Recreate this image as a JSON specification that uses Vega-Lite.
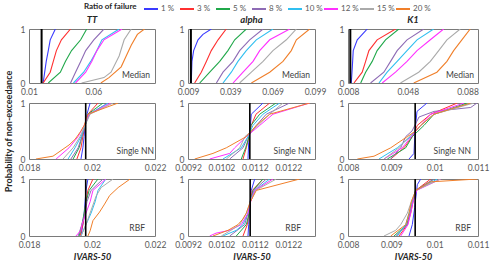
{
"$schema":"https://vega.github.io/schema/vega-lite/v6.json",
"padding":{"left":3,"top":1,"right":0,"bottom":0},
"datasets":{
"c":[
{"g":"TT_M","s":"1 %","x":0.021,"p":0},{"g":"TT_M","s":"1 %","x":0.0222,"p":0.2},{"g":"TT_M","s":"1 %","x":0.0234,"p":0.4},{"g":"TT_M","s":"1 %","x":0.025,"p":0.6},{"g":"TT_M","s":"1 %","x":0.0265,"p":0.8},{"g":"TT_M","s":"1 %","x":0.0305,"p":1},
{"g":"TT_M","s":"3 %","x":0.021,"p":0},{"g":"TT_M","s":"3 %","x":0.0265,"p":0.2},{"g":"TT_M","s":"3 %","x":0.0289,"p":0.4},{"g":"TT_M","s":"3 %","x":0.0313,"p":0.6},{"g":"TT_M","s":"3 %","x":0.0352,"p":0.8},{"g":"TT_M","s":"3 %","x":0.0423,"p":1},
{"g":"TT_M","s":"5 %","x":0.025,"p":0},{"g":"TT_M","s":"5 %","x":0.0344,"p":0.2},{"g":"TT_M","s":"5 %","x":0.0383,"p":0.4},{"g":"TT_M","s":"5 %","x":0.0431,"p":0.6},{"g":"TT_M","s":"5 %","x":0.0502,"p":0.8},{"g":"TT_M","s":"5 %","x":0.0549,"p":1},
{"g":"TT_M","s":"8 %","x":0.0423,"p":0},{"g":"TT_M","s":"8 %","x":0.0462,"p":0.2},{"g":"TT_M","s":"8 %","x":0.0502,"p":0.4},{"g":"TT_M","s":"8 %","x":0.0541,"p":0.6},{"g":"TT_M","s":"8 %","x":0.0604,"p":0.8},{"g":"TT_M","s":"8 %","x":0.0683,"p":1},
{"g":"TT_M","s":"10 %","x":0.0446,"p":0},{"g":"TT_M","s":"10 %","x":0.0525,"p":0.2},{"g":"TT_M","s":"10 %","x":0.058,"p":0.4},{"g":"TT_M","s":"10 %","x":0.0628,"p":0.6},{"g":"TT_M","s":"10 %","x":0.0667,"p":0.8},{"g":"TT_M","s":"10 %","x":0.0801,"p":1},
{"g":"TT_M","s":"12 %","x":0.0462,"p":0},{"g":"TT_M","s":"12 %","x":0.0541,"p":0.2},{"g":"TT_M","s":"12 %","x":0.0588,"p":0.4},{"g":"TT_M","s":"12 %","x":0.0628,"p":0.6},{"g":"TT_M","s":"12 %","x":0.0683,"p":0.8},{"g":"TT_M","s":"12 %","x":0.0824,"p":1},
{"g":"TT_M","s":"15 %","x":0.0509,"p":0},{"g":"TT_M","s":"15 %","x":0.0683,"p":0.1},{"g":"TT_M","s":"15 %","x":0.0738,"p":0.2},{"g":"TT_M","s":"15 %","x":0.0801,"p":0.5},{"g":"TT_M","s":"15 %","x":0.084,"p":0.8},{"g":"TT_M","s":"15 %","x":0.0895,"p":1},
{"g":"TT_M","s":"20 %","x":0.0659,"p":0},{"g":"TT_M","s":"20 %","x":0.0722,"p":0.1},{"g":"TT_M","s":"20 %","x":0.0817,"p":0.3},{"g":"TT_M","s":"20 %","x":0.0856,"p":0.5},{"g":"TT_M","s":"20 %","x":0.0895,"p":0.7},{"g":"TT_M","s":"20 %","x":0.0943,"p":0.9},{"g":"TT_M","s":"20 %","x":0.0998,"p":1},

{"g":"al_M","s":"1 %","x":0.0113,"p":0},{"g":"al_M","s":"1 %","x":0.0118,"p":0.4},{"g":"al_M","s":"1 %","x":0.013,"p":0.6},{"g":"al_M","s":"1 %","x":0.0161,"p":0.8},{"g":"al_M","s":"1 %","x":0.0196,"p":0.9},{"g":"al_M","s":"1 %","x":0.0255,"p":1},
{"g":"al_M","s":"3 %","x":0.0137,"p":0},{"g":"al_M","s":"3 %","x":0.0184,"p":0.2},{"g":"al_M","s":"3 %","x":0.022,"p":0.4},{"g":"al_M","s":"3 %","x":0.0255,"p":0.6},{"g":"al_M","s":"3 %","x":0.0303,"p":0.8},{"g":"al_M","s":"3 %","x":0.0361,"p":1},
{"g":"al_M","s":"5 %","x":0.0173,"p":0},{"g":"al_M","s":"5 %","x":0.0244,"p":0.2},{"g":"al_M","s":"5 %","x":0.0315,"p":0.4},{"g":"al_M","s":"5 %","x":0.0373,"p":0.6},{"g":"al_M","s":"5 %","x":0.0421,"p":0.8},{"g":"al_M","s":"5 %","x":0.0503,"p":1},
{"g":"al_M","s":"8 %","x":0.0291,"p":0},{"g":"al_M","s":"8 %","x":0.0338,"p":0.2},{"g":"al_M","s":"8 %","x":0.0409,"p":0.4},{"g":"al_M","s":"8 %","x":0.0456,"p":0.6},{"g":"al_M","s":"8 %","x":0.0527,"p":0.8},{"g":"al_M","s":"8 %","x":0.0622,"p":1},
{"g":"al_M","s":"10 %","x":0.0338,"p":0},{"g":"al_M","s":"10 %","x":0.0397,"p":0.2},{"g":"al_M","s":"10 %","x":0.0444,"p":0.4},{"g":"al_M","s":"10 %","x":0.0503,"p":0.6},{"g":"al_M","s":"10 %","x":0.0574,"p":0.8},{"g":"al_M","s":"10 %","x":0.0692,"p":1},
{"g":"al_M","s":"12 %","x":0.0409,"p":0},{"g":"al_M","s":"12 %","x":0.048,"p":0.2},{"g":"al_M","s":"12 %","x":0.0551,"p":0.4},{"g":"al_M","s":"12 %","x":0.0598,"p":0.6},{"g":"al_M","s":"12 %","x":0.0669,"p":0.8},{"g":"al_M","s":"12 %","x":0.0811,"p":1},
{"g":"al_M","s":"15 %","x":0.0456,"p":0},{"g":"al_M","s":"15 %","x":0.0539,"p":0.2},{"g":"al_M","s":"15 %","x":0.0622,"p":0.4},{"g":"al_M","s":"15 %","x":0.0692,"p":0.6},{"g":"al_M","s":"15 %","x":0.0787,"p":0.8},{"g":"al_M","s":"15 %","x":0.0858,"p":1},
{"g":"al_M","s":"20 %","x":0.0539,"p":0},{"g":"al_M","s":"20 %","x":0.0669,"p":0.2},{"g":"al_M","s":"20 %","x":0.0763,"p":0.4},{"g":"al_M","s":"20 %","x":0.0822,"p":0.6},{"g":"al_M","s":"20 %","x":0.0858,"p":0.8},{"g":"al_M","s":"20 %","x":0.0952,"p":1},

{"g":"K1_M","s":"1 %","x":0.0102,"p":0},{"g":"K1_M","s":"1 %","x":0.0109,"p":0.3},{"g":"K1_M","s":"1 %","x":0.0115,"p":0.6},{"g":"K1_M","s":"1 %","x":0.0142,"p":0.8},{"g":"K1_M","s":"1 %","x":0.0209,"p":1},
{"g":"K1_M","s":"3 %","x":0.012,"p":0},{"g":"K1_M","s":"3 %","x":0.0175,"p":0.2},{"g":"K1_M","s":"3 %","x":0.0198,"p":0.4},{"g":"K1_M","s":"3 %","x":0.022,"p":0.6},{"g":"K1_M","s":"3 %","x":0.0275,"p":0.8},{"g":"K1_M","s":"3 %","x":0.0398,"p":1},
{"g":"K1_M","s":"5 %","x":0.0165,"p":0},{"g":"K1_M","s":"5 %","x":0.0198,"p":0.2},{"g":"K1_M","s":"5 %","x":0.0242,"p":0.4},{"g":"K1_M","s":"5 %","x":0.0275,"p":0.6},{"g":"K1_M","s":"5 %","x":0.0331,"p":0.8},{"g":"K1_M","s":"5 %","x":0.042,"p":1},
{"g":"K1_M","s":"8 %","x":0.0231,"p":0},{"g":"K1_M","s":"8 %","x":0.032,"p":0.2},{"g":"K1_M","s":"8 %","x":0.0365,"p":0.4},{"g":"K1_M","s":"8 %","x":0.0409,"p":0.6},{"g":"K1_M","s":"8 %","x":0.0475,"p":0.8},{"g":"K1_M","s":"8 %","x":0.0587,"p":1},
{"g":"K1_M","s":"10 %","x":0.0287,"p":0},{"g":"K1_M","s":"10 %","x":0.0342,"p":0.2},{"g":"K1_M","s":"10 %","x":0.0409,"p":0.4},{"g":"K1_M","s":"10 %","x":0.0475,"p":0.6},{"g":"K1_M","s":"10 %","x":0.0542,"p":0.8},{"g":"K1_M","s":"10 %","x":0.0653,"p":1},
{"g":"K1_M","s":"12 %","x":0.0309,"p":0},{"g":"K1_M","s":"12 %","x":0.0398,"p":0.2},{"g":"K1_M","s":"12 %","x":0.0475,"p":0.4},{"g":"K1_M","s":"12 %","x":0.0542,"p":0.6},{"g":"K1_M","s":"12 %","x":0.0631,"p":0.8},{"g":"K1_M","s":"12 %","x":0.072,"p":1},
{"g":"K1_M","s":"15 %","x":0.0431,"p":0},{"g":"K1_M","s":"15 %","x":0.0553,"p":0.2},{"g":"K1_M","s":"15 %","x":0.0631,"p":0.4},{"g":"K1_M","s":"15 %","x":0.0687,"p":0.6},{"g":"K1_M","s":"15 %","x":0.0742,"p":0.8},{"g":"K1_M","s":"15 %","x":0.0831,"p":1},
{"g":"K1_M","s":"20 %","x":0.052,"p":0},{"g":"K1_M","s":"20 %","x":0.0675,"p":0.2},{"g":"K1_M","s":"20 %","x":0.0742,"p":0.4},{"g":"K1_M","s":"20 %","x":0.0787,"p":0.6},{"g":"K1_M","s":"20 %","x":0.0842,"p":0.8},{"g":"K1_M","s":"20 %","x":0.0898,"p":1},

{"g":"TT_S","s":"1 %","x":0.01965,"p":0},{"g":"TT_S","s":"1 %","x":0.01971,"p":0.2},{"g":"TT_S","s":"1 %","x":0.01975,"p":0.4},{"g":"TT_S","s":"1 %","x":0.01978,"p":0.6},{"g":"TT_S","s":"1 %","x":0.01984,"p":0.8},{"g":"TT_S","s":"1 %","x":0.01994,"p":1},
{"g":"TT_S","s":"3 %","x":0.01952,"p":0},{"g":"TT_S","s":"3 %","x":0.01965,"p":0.2},{"g":"TT_S","s":"3 %","x":0.01971,"p":0.4},{"g":"TT_S","s":"3 %","x":0.01978,"p":0.6},{"g":"TT_S","s":"3 %","x":0.01987,"p":0.8},{"g":"TT_S","s":"3 %","x":0.02019,"p":1},
{"g":"TT_S","s":"5 %","x":0.0194,"p":0},{"g":"TT_S","s":"5 %","x":0.01959,"p":0.2},{"g":"TT_S","s":"5 %","x":0.01968,"p":0.4},{"g":"TT_S","s":"5 %","x":0.01978,"p":0.6},{"g":"TT_S","s":"5 %","x":0.01987,"p":0.8},{"g":"TT_S","s":"5 %","x":0.02035,"p":1},
{"g":"TT_S","s":"8 %","x":0.01933,"p":0},{"g":"TT_S","s":"8 %","x":0.01956,"p":0.2},{"g":"TT_S","s":"8 %","x":0.01968,"p":0.4},{"g":"TT_S","s":"8 %","x":0.01978,"p":0.6},{"g":"TT_S","s":"8 %","x":0.01991,"p":0.8},{"g":"TT_S","s":"8 %","x":0.02051,"p":1},
{"g":"TT_S","s":"10 %","x":0.01924,"p":0},{"g":"TT_S","s":"10 %","x":0.01946,"p":0.2},{"g":"TT_S","s":"10 %","x":0.01965,"p":0.4},{"g":"TT_S","s":"10 %","x":0.01978,"p":0.6},{"g":"TT_S","s":"10 %","x":0.01991,"p":0.8},{"g":"TT_S","s":"10 %","x":0.02051,"p":1},
{"g":"TT_S","s":"12 %","x":0.01886,"p":0},{"g":"TT_S","s":"12 %","x":0.01927,"p":0.2},{"g":"TT_S","s":"12 %","x":0.01956,"p":0.4},{"g":"TT_S","s":"12 %","x":0.01975,"p":0.6},{"g":"TT_S","s":"12 %","x":0.01991,"p":0.8},{"g":"TT_S","s":"12 %","x":0.0206,"p":1},
{"g":"TT_S","s":"15 %","x":0.01908,"p":0},{"g":"TT_S","s":"15 %","x":0.0194,"p":0.2},{"g":"TT_S","s":"15 %","x":0.01962,"p":0.4},{"g":"TT_S","s":"15 %","x":0.01978,"p":0.6},{"g":"TT_S","s":"15 %","x":0.01994,"p":0.8},{"g":"TT_S","s":"15 %","x":0.02067,"p":1},
{"g":"TT_S","s":"20 %","x":0.01822,"p":0},{"g":"TT_S","s":"20 %","x":0.01876,"p":0.05},{"g":"TT_S","s":"20 %","x":0.01927,"p":0.25},{"g":"TT_S","s":"20 %","x":0.01946,"p":0.35},{"g":"TT_S","s":"20 %","x":0.01965,"p":0.5},{"g":"TT_S","s":"20 %","x":0.01975,"p":0.6},{"g":"TT_S","s":"20 %","x":0.01987,"p":0.8},{"g":"TT_S","s":"20 %","x":0.02083,"p":1},

{"g":"al_S","s":"1 %","x":0.010995,"p":0},{"g":"al_S","s":"1 %","x":0.011016,"p":0.3},{"g":"al_S","s":"1 %","x":0.011055,"p":0.5},{"g":"al_S","s":"1 %","x":0.011094,"p":0.8},{"g":"al_S","s":"1 %","x":0.011444,"p":1},
{"g":"al_S","s":"3 %","x":0.010846,"p":0},{"g":"al_S","s":"3 %","x":0.010944,"p":0.2},{"g":"al_S","s":"3 %","x":0.011025,"p":0.4},{"g":"al_S","s":"3 %","x":0.011094,"p":0.6},{"g":"al_S","s":"3 %","x":0.011235,"p":0.8},{"g":"al_S","s":"3 %","x":0.011644,"p":1},
{"g":"al_S","s":"5 %","x":0.010795,"p":0},{"g":"al_S","s":"5 %","x":0.010926,"p":0.2},{"g":"al_S","s":"5 %","x":0.011025,"p":0.4},{"g":"al_S","s":"5 %","x":0.011085,"p":0.6},{"g":"al_S","s":"5 %","x":0.011345,"p":0.8},{"g":"al_S","s":"5 %","x":0.011833,"p":1},
{"g":"al_S","s":"8 %","x":0.010448,"p":0},{"g":"al_S","s":"8 %","x":0.010846,"p":0.2},{"g":"al_S","s":"8 %","x":0.010995,"p":0.4},{"g":"al_S","s":"8 %","x":0.011244,"p":0.6},{"g":"al_S","s":"8 %","x":0.011543,"p":0.8},{"g":"al_S","s":"8 %","x":0.012243,"p":1},
{"g":"al_S","s":"10 %","x":0.010247,"p":0},{"g":"al_S","s":"10 %","x":0.010795,"p":0.2},{"g":"al_S","s":"10 %","x":0.010995,"p":0.4},{"g":"al_S","s":"10 %","x":0.011145,"p":0.6},{"g":"al_S","s":"10 %","x":0.011444,"p":0.8},{"g":"al_S","s":"10 %","x":0.011944,"p":1},
{"g":"al_S","s":"12 %","x":0.009849,"p":0},{"g":"al_S","s":"12 %","x":0.010448,"p":0.1},{"g":"al_S","s":"12 %","x":0.010597,"p":0.2},{"g":"al_S","s":"12 %","x":0.010944,"p":0.4},{"g":"al_S","s":"12 %","x":0.011345,"p":0.6},{"g":"al_S","s":"12 %","x":0.011743,"p":0.8},{"g":"al_S","s":"12 %","x":0.012841,"p":1},
{"g":"al_S","s":"15 %","x":0.010346,"p":0},{"g":"al_S","s":"15 %","x":0.010747,"p":0.2},{"g":"al_S","s":"15 %","x":0.010905,"p":0.4},{"g":"al_S","s":"15 %","x":0.011294,"p":0.6},{"g":"al_S","s":"15 %","x":0.011644,"p":0.8},{"g":"al_S","s":"15 %","x":0.012042,"p":1},
{"g":"al_S","s":"20 %","x":0.0094,"p":0},{"g":"al_S","s":"20 %","x":0.009948,"p":0.1},{"g":"al_S","s":"20 %","x":0.010346,"p":0.2},{"g":"al_S","s":"20 %","x":0.010944,"p":0.4},{"g":"al_S","s":"20 %","x":0.011244,"p":0.6},{"g":"al_S","s":"20 %","x":0.011644,"p":0.8},{"g":"al_S","s":"20 %","x":0.012841,"p":1},

{"g":"K1_S","s":"1 %","x":0.009408,"p":0},{"g":"K1_S","s":"1 %","x":0.009523,"p":0.1},{"g":"K1_S","s":"1 %","x":0.009546,"p":0.5},{"g":"K1_S","s":"1 %","x":0.009593,"p":0.85},{"g":"K1_S","s":"1 %","x":0.009823,"p":1},
{"g":"K1_S","s":"3 %","x":0.008986,"p":0},{"g":"K1_S","s":"3 %","x":0.009292,"p":0.2},{"g":"K1_S","s":"3 %","x":0.009484,"p":0.4},{"g":"K1_S","s":"3 %","x":0.009599,"p":0.6},{"g":"K1_S","s":"3 %","x":0.009909,"p":0.8},{"g":"K1_S","s":"3 %","x":0.010523,"p":1},
{"g":"K1_S","s":"5 %","x":0.008907,"p":0},{"g":"K1_S","s":"5 %","x":0.009332,"p":0.2},{"g":"K1_S","s":"5 %","x":0.009484,"p":0.4},{"g":"K1_S","s":"5 %","x":0.009754,"p":0.6},{"g":"K1_S","s":"5 %","x":0.009985,"p":0.8},{"g":"K1_S","s":"5 %","x":0.010753,"p":1},
{"g":"K1_S","s":"8 %","x":0.008986,"p":0},{"g":"K1_S","s":"8 %","x":0.009216,"p":0.2},{"g":"K1_S","s":"8 %","x":0.009332,"p":0.4},{"g":"K1_S","s":"8 %","x":0.009477,"p":0.5},{"g":"K1_S","s":"8 %","x":0.009639,"p":0.75},{"g":"K1_S","s":"8 %","x":0.009985,"p":0.85},{"g":"K1_S","s":"8 %","x":0.010832,"p":0.92},{"g":"K1_S","s":"8 %","x":0.010977,"p":1},
{"g":"K1_S","s":"10 %","x":0.008715,"p":0},{"g":"K1_S","s":"10 %","x":0.009138,"p":0.2},{"g":"K1_S","s":"10 %","x":0.009447,"p":0.4},{"g":"K1_S","s":"10 %","x":0.009678,"p":0.6},{"g":"K1_S","s":"10 %","x":0.009985,"p":0.8},{"g":"K1_S","s":"10 %","x":0.010832,"p":1},
{"g":"K1_S","s":"12 %","x":0.008831,"p":0},{"g":"K1_S","s":"12 %","x":0.009253,"p":0.2},{"g":"K1_S","s":"12 %","x":0.009461,"p":0.4},{"g":"K1_S","s":"12 %","x":0.009678,"p":0.6},{"g":"K1_S","s":"12 %","x":0.009909,"p":0.8},{"g":"K1_S","s":"12 %","x":0.010677,"p":1},
{"g":"K1_S","s":"15 %","x":0.008831,"p":0},{"g":"K1_S","s":"15 %","x":0.009177,"p":0.2},{"g":"K1_S","s":"15 %","x":0.009408,"p":0.4},{"g":"K1_S","s":"15 %","x":0.009678,"p":0.6},{"g":"K1_S","s":"15 %","x":0.009985,"p":0.8},{"g":"K1_S","s":"15 %","x":0.010908,"p":1},
{"g":"K1_S","s":"20 %","x":0.008215,"p":0},{"g":"K1_S","s":"20 %","x":0.0086,"p":0.05},{"g":"K1_S","s":"20 %","x":0.008986,"p":0.2},{"g":"K1_S","s":"20 %","x":0.009177,"p":0.3},{"g":"K1_S","s":"20 %","x":0.009369,"p":0.4},{"g":"K1_S","s":"20 %","x":0.009563,"p":0.5},{"g":"K1_S","s":"20 %","x":0.009678,"p":0.6},{"g":"K1_S","s":"20 %","x":0.009985,"p":0.8},{"g":"K1_S","s":"20 %","x":0.010832,"p":1},

{"g":"TT_R","s":"1 %","x":0.01965,"p":0},{"g":"TT_R","s":"1 %","x":0.01971,"p":0.2},{"g":"TT_R","s":"1 %","x":0.01975,"p":0.4},{"g":"TT_R","s":"1 %","x":0.01978,"p":0.6},{"g":"TT_R","s":"1 %","x":0.01981,"p":0.8},{"g":"TT_R","s":"1 %","x":0.01987,"p":1},
{"g":"TT_R","s":"3 %","x":0.01962,"p":0},{"g":"TT_R","s":"3 %","x":0.01971,"p":0.2},{"g":"TT_R","s":"3 %","x":0.01976,"p":0.4},{"g":"TT_R","s":"3 %","x":0.01981,"p":0.6},{"g":"TT_R","s":"3 %","x":0.01987,"p":0.8},{"g":"TT_R","s":"3 %","x":0.02003,"p":1},
{"g":"TT_R","s":"5 %","x":0.01959,"p":0},{"g":"TT_R","s":"5 %","x":0.01968,"p":0.2},{"g":"TT_R","s":"5 %","x":0.01975,"p":0.4},{"g":"TT_R","s":"5 %","x":0.01981,"p":0.6},{"g":"TT_R","s":"5 %","x":0.01991,"p":0.8},{"g":"TT_R","s":"5 %","x":0.02019,"p":1},
{"g":"TT_R","s":"8 %","x":0.01956,"p":0},{"g":"TT_R","s":"8 %","x":0.01968,"p":0.2},{"g":"TT_R","s":"8 %","x":0.01978,"p":0.4},{"g":"TT_R","s":"8 %","x":0.01984,"p":0.6},{"g":"TT_R","s":"8 %","x":0.01997,"p":0.8},{"g":"TT_R","s":"8 %","x":0.02035,"p":1},
{"g":"TT_R","s":"10 %","x":0.01965,"p":0},{"g":"TT_R","s":"10 %","x":0.01981,"p":0.2},{"g":"TT_R","s":"10 %","x":0.01997,"p":0.4},{"g":"TT_R","s":"10 %","x":0.0201,"p":0.6},{"g":"TT_R","s":"10 %","x":0.02019,"p":0.8},{"g":"TT_R","s":"10 %","x":0.02044,"p":1},
{"g":"TT_R","s":"12 %","x":0.01949,"p":0},{"g":"TT_R","s":"12 %","x":0.01965,"p":0.1},{"g":"TT_R","s":"12 %","x":0.01968,"p":0.2},{"g":"TT_R","s":"12 %","x":0.01981,"p":0.4},{"g":"TT_R","s":"12 %","x":0.01994,"p":0.6},{"g":"TT_R","s":"12 %","x":0.02003,"p":0.8},{"g":"TT_R","s":"12 %","x":0.02044,"p":1},
{"g":"TT_R","s":"15 %","x":0.01965,"p":0},{"g":"TT_R","s":"15 %","x":0.01981,"p":0.2},{"g":"TT_R","s":"15 %","x":0.01997,"p":0.45},{"g":"TT_R","s":"15 %","x":0.02013,"p":0.7},{"g":"TT_R","s":"15 %","x":0.02029,"p":0.85},{"g":"TT_R","s":"15 %","x":0.02067,"p":1},
{"g":"TT_R","s":"20 %","x":0.01987,"p":0},{"g":"TT_R","s":"20 %","x":0.01994,"p":0.09},{"g":"TT_R","s":"20 %","x":0.02003,"p":0.27},{"g":"TT_R","s":"20 %","x":0.02024,"p":0.42},{"g":"TT_R","s":"20 %","x":0.0204,"p":0.56},{"g":"TT_R","s":"20 %","x":0.02056,"p":0.71},{"g":"TT_R","s":"20 %","x":0.02083,"p":0.85},{"g":"TT_R","s":"20 %","x":0.02121,"p":1},

{"g":"al_R","s":"1 %","x":0.010995,"p":0},{"g":"al_R","s":"1 %","x":0.011016,"p":0.2},{"g":"al_R","s":"1 %","x":0.011046,"p":0.5},{"g":"al_R","s":"1 %","x":0.011094,"p":0.8},{"g":"al_R","s":"1 %","x":0.011196,"p":1},
{"g":"al_R","s":"3 %","x":0.010846,"p":0},{"g":"al_R","s":"3 %","x":0.010974,"p":0.2},{"g":"al_R","s":"3 %","x":0.011025,"p":0.4},{"g":"al_R","s":"3 %","x":0.011064,"p":0.6},{"g":"al_R","s":"3 %","x":0.011124,"p":0.8},{"g":"al_R","s":"3 %","x":0.011444,"p":1},
{"g":"al_R","s":"5 %","x":0.010645,"p":0},{"g":"al_R","s":"5 %","x":0.010944,"p":0.2},{"g":"al_R","s":"5 %","x":0.011034,"p":0.4},{"g":"al_R","s":"5 %","x":0.011064,"p":0.6},{"g":"al_R","s":"5 %","x":0.011145,"p":0.8},{"g":"al_R","s":"5 %","x":0.011444,"p":1},
{"g":"al_R","s":"8 %","x":0.010448,"p":0},{"g":"al_R","s":"8 %","x":0.010896,"p":0.2},{"g":"al_R","s":"8 %","x":0.010995,"p":0.4},{"g":"al_R","s":"8 %","x":0.011064,"p":0.6},{"g":"al_R","s":"8 %","x":0.011166,"p":0.8},{"g":"al_R","s":"8 %","x":0.011543,"p":1},
{"g":"al_R","s":"10 %","x":0.010247,"p":0},{"g":"al_R","s":"10 %","x":0.010645,"p":0.1},{"g":"al_R","s":"10 %","x":0.010846,"p":0.2},{"g":"al_R","s":"10 %","x":0.010995,"p":0.4},{"g":"al_R","s":"10 %","x":0.011064,"p":0.6},{"g":"al_R","s":"10 %","x":0.011196,"p":0.8},{"g":"al_R","s":"10 %","x":0.011644,"p":1},
{"g":"al_R","s":"12 %","x":0.009849,"p":0},{"g":"al_R","s":"12 %","x":0.010038,"p":0.05},{"g":"al_R","s":"12 %","x":0.010448,"p":0.1},{"g":"al_R","s":"12 %","x":0.010795,"p":0.2},{"g":"al_R","s":"12 %","x":0.010995,"p":0.4},{"g":"al_R","s":"12 %","x":0.011076,"p":0.6},{"g":"al_R","s":"12 %","x":0.011196,"p":0.8},{"g":"al_R","s":"12 %","x":0.011743,"p":1},
{"g":"al_R","s":"15 %","x":0.010196,"p":0},{"g":"al_R","s":"15 %","x":0.010487,"p":0.1},{"g":"al_R","s":"15 %","x":0.010747,"p":0.2},{"g":"al_R","s":"15 %","x":0.010944,"p":0.4},{"g":"al_R","s":"15 %","x":0.011064,"p":0.6},{"g":"al_R","s":"15 %","x":0.011226,"p":0.8},{"g":"al_R","s":"15 %","x":0.011842,"p":1},
{"g":"al_R","s":"20 %","x":0.009948,"p":0},{"g":"al_R","s":"20 %","x":0.010397,"p":0.1},{"g":"al_R","s":"20 %","x":0.010696,"p":0.2},{"g":"al_R","s":"20 %","x":0.010846,"p":0.3},{"g":"al_R","s":"20 %","x":0.010944,"p":0.4},{"g":"al_R","s":"20 %","x":0.011064,"p":0.6},{"g":"al_R","s":"20 %","x":0.011244,"p":0.8},{"g":"al_R","s":"20 %","x":0.012542,"p":1},

{"g":"K1_R","s":"1 %","x":0.009408,"p":0},{"g":"K1_R","s":"1 %","x":0.009484,"p":0.2},{"g":"K1_R","s":"1 %","x":0.009539,"p":0.5},{"g":"K1_R","s":"1 %","x":0.009599,"p":0.9},{"g":"K1_R","s":"1 %","x":0.009678,"p":1},
{"g":"K1_R","s":"3 %","x":0.009177,"p":0},{"g":"K1_R","s":"3 %","x":0.009369,"p":0.2},{"g":"K1_R","s":"3 %","x":0.009447,"p":0.4},{"g":"K1_R","s":"3 %","x":0.0095,"p":0.6},{"g":"K1_R","s":"3 %","x":0.009563,"p":0.8},{"g":"K1_R","s":"3 %","x":0.009909,"p":1},
{"g":"K1_R","s":"5 %","x":0.009062,"p":0},{"g":"K1_R","s":"5 %","x":0.009355,"p":0.2},{"g":"K1_R","s":"5 %","x":0.009431,"p":0.4},{"g":"K1_R","s":"5 %","x":0.009484,"p":0.6},{"g":"K1_R","s":"5 %","x":0.009563,"p":0.8},{"g":"K1_R","s":"5 %","x":0.009985,"p":1},
{"g":"K1_R","s":"8 %","x":0.009101,"p":0},{"g":"K1_R","s":"8 %","x":0.009369,"p":0.2},{"g":"K1_R","s":"8 %","x":0.009431,"p":0.4},{"g":"K1_R","s":"8 %","x":0.009493,"p":0.6},{"g":"K1_R","s":"8 %","x":0.009569,"p":0.8},{"g":"K1_R","s":"8 %","x":0.009985,"p":1},
{"g":"K1_R","s":"10 %","x":0.009138,"p":0},{"g":"K1_R","s":"10 %","x":0.009332,"p":0.2},{"g":"K1_R","s":"10 %","x":0.009408,"p":0.4},{"g":"K1_R","s":"10 %","x":0.009484,"p":0.6},{"g":"K1_R","s":"10 %","x":0.009576,"p":0.8},{"g":"K1_R","s":"10 %","x":0.010061,"p":1},
{"g":"K1_R","s":"12 %","x":0.009216,"p":0},{"g":"K1_R","s":"12 %","x":0.009385,"p":0.2},{"g":"K1_R","s":"12 %","x":0.009447,"p":0.4},{"g":"K1_R","s":"12 %","x":0.0095,"p":0.6},{"g":"K1_R","s":"12 %","x":0.009586,"p":0.8},{"g":"K1_R","s":"12 %","x":0.010139,"p":1},
{"g":"K1_R","s":"15 %","x":0.008831,"p":0},{"g":"K1_R","s":"15 %","x":0.009101,"p":0.1},{"g":"K1_R","s":"15 %","x":0.009216,"p":0.2},{"g":"K1_R","s":"15 %","x":0.009369,"p":0.4},{"g":"K1_R","s":"15 %","x":0.009461,"p":0.6},{"g":"K1_R","s":"15 %","x":0.009563,"p":0.8},{"g":"K1_R","s":"15 %","x":0.010139,"p":1},
{"g":"K1_R","s":"20 %","x":0.008986,"p":0},{"g":"K1_R","s":"20 %","x":0.009332,"p":0.2},{"g":"K1_R","s":"20 %","x":0.009408,"p":0.4},{"g":"K1_R","s":"20 %","x":0.009461,"p":0.6},{"g":"K1_R","s":"20 %","x":0.009563,"p":0.8},{"g":"K1_R","s":"20 %","x":0.009909,"p":0.95},{"g":"K1_R","s":"20 %","x":0.010984,"p":1}
],
"v":[
{"g":"TT_M","x":0.0198},{"g":"al_M","x":0.01105},{"g":"K1_M","x":0.00955},
{"g":"TT_S","x":0.0198},{"g":"al_S","x":0.01105},{"g":"K1_S","x":0.00955},
{"g":"TT_R","x":0.0198},{"g":"al_R","x":0.01106},{"g":"K1_R","x":0.00955}
]
},
"concat":[
{"width":126,"height":54,"title":{"text":"TT"},
 "layer":[
 {"data":{"name":"c"},"transform":[{"filter":"datum.g==='TT_M'"}],"mark":{"type":"line","strokeWidth":1.1,"clip":true},
  "encoding":{"x":{"field":"x","type":"quantitative","scale":{"domain":[0.01,0.108],"nice":false,"zero":false},"axis":{"values":[0.01,0.06],"title":null}},
  "y":{"field":"p","type":"quantitative","scale":{"domain":[0,1],"nice":false},"axis":{"values":[0,0.2,0.4,0.6,0.8,1],"title":null}},
  "color":{"field":"s","type":"nominal","title":"Ratio of failure","scale":{"domain":["1 %","3 %","5 %","8 %","10 %","12 %","15 %","20 %"],"range":["#3a3aff","#ff3030","#20a84a","#8e6bb5","#30bff0","#ff30ff","#aaaaaa","#f07f2a"]}},
  "order":{"field":"p","type":"quantitative"}}},
 {"data":{"name":"v"},"transform":[{"filter":"datum.g==='TT_M'"}],"mark":{"type":"rule","color":"black","strokeWidth":2},"encoding":{"x":{"field":"x","type":"quantitative"}}},
 {"data":{"values":[{}]},"mark":{"type":"text","align":"right","baseline":"bottom","dx":-5,"dy":-3},"encoding":{"x":{"datum":0.108},"y":{"datum":0},"text":{"value":"Median"}}}
 ]},
{"width":127,"height":54,"title":{"text":"alpha"},
 "layer":[
 {"data":{"name":"c"},"transform":[{"filter":"datum.g==='al_M'"}],"mark":{"type":"line","strokeWidth":1.1,"clip":true},
  "encoding":{"x":{"field":"x","type":"quantitative","scale":{"domain":[0.009,0.099],"nice":false,"zero":false},"axis":{"values":[0.009,0.039,0.069,0.099],"title":null}},
  "y":{"field":"p","type":"quantitative","scale":{"domain":[0,1],"nice":false},"axis":{"values":[0,0.2,0.4,0.6,0.8,1],"title":null}},
  "color":{"field":"s","type":"nominal","title":"Ratio of failure","scale":{"domain":["1 %","3 %","5 %","8 %","10 %","12 %","15 %","20 %"],"range":["#3a3aff","#ff3030","#20a84a","#8e6bb5","#30bff0","#ff30ff","#aaaaaa","#f07f2a"]}},
  "order":{"field":"p","type":"quantitative"}}},
 {"data":{"name":"v"},"transform":[{"filter":"datum.g==='al_M'"}],"mark":{"type":"rule","color":"black","strokeWidth":2},"encoding":{"x":{"field":"x","type":"quantitative"}}},
 {"data":{"values":[{}]},"mark":{"type":"text","align":"right","baseline":"bottom","dx":-5,"dy":-3},"encoding":{"x":{"datum":0.099},"y":{"datum":0},"text":{"value":"Median"}}}
 ]},
{"width":130,"height":54,"title":{"text":"K1"},
 "layer":[
 {"data":{"name":"c"},"transform":[{"filter":"datum.g==='K1_M'"}],"mark":{"type":"line","strokeWidth":1.1,"clip":true},
  "encoding":{"x":{"field":"x","type":"quantitative","scale":{"domain":[0.008,0.095],"nice":false,"zero":false},"axis":{"values":[0.008,0.028,0.048,0.068,0.088],"title":null}},
  "y":{"field":"p","type":"quantitative","scale":{"domain":[0,1],"nice":false},"axis":{"values":[0,0.2,0.4,0.6,0.8,1],"title":null}},
  "color":{"field":"s","type":"nominal","title":"Ratio of failure","scale":{"domain":["1 %","3 %","5 %","8 %","10 %","12 %","15 %","20 %"],"range":["#3a3aff","#ff3030","#20a84a","#8e6bb5","#30bff0","#ff30ff","#aaaaaa","#f07f2a"]}},
  "order":{"field":"p","type":"quantitative"}}},
 {"data":{"name":"v"},"transform":[{"filter":"datum.g==='K1_M'"}],"mark":{"type":"rule","color":"black","strokeWidth":2},"encoding":{"x":{"field":"x","type":"quantitative"}}},
 {"data":{"values":[{}]},"mark":{"type":"text","align":"right","baseline":"bottom","dx":-4,"dy":-3},"encoding":{"x":{"datum":0.095},"y":{"datum":0},"text":{"value":"Median"}}}
 ]},
{"width":126,"height":56,
 "layer":[
 {"data":{"name":"c"},"transform":[{"filter":"datum.g==='TT_S'"}],"mark":{"type":"line","strokeWidth":1,"clip":true},
  "encoding":{"x":{"field":"x","type":"quantitative","scale":{"domain":[0.018,0.022],"nice":false,"zero":false},"axis":{"values":[0.018,0.02,0.022],"title":null}},
  "y":{"field":"p","type":"quantitative","scale":{"domain":[0,1],"nice":false},"axis":{"values":[0,0.2,0.4,0.6,0.8,1],"title":"Probability of non-exceedance","titlePadding":7}},
  "color":{"field":"s","type":"nominal","title":"Ratio of failure","scale":{"domain":["1 %","3 %","5 %","8 %","10 %","12 %","15 %","20 %"],"range":["#3a3aff","#ff3030","#20a84a","#8e6bb5","#30bff0","#ff30ff","#aaaaaa","#f07f2a"]}},
  "order":{"field":"p","type":"quantitative"}}},
 {"data":{"name":"v"},"transform":[{"filter":"datum.g==='TT_S'"}],"mark":{"type":"rule","color":"black","strokeWidth":1.6},"encoding":{"x":{"field":"x","type":"quantitative"}}},
 {"data":{"values":[{}]},"mark":{"type":"text","align":"right","baseline":"bottom","dx":-1,"dy":-3},"encoding":{"x":{"datum":0.022},"y":{"datum":0},"text":{"value":"Single NN"}}}
 ]},
{"width":127,"height":56,
 "layer":[
 {"data":{"name":"c"},"transform":[{"filter":"datum.g==='al_S'"}],"mark":{"type":"line","strokeWidth":1,"clip":true},
  "encoding":{"x":{"field":"x","type":"quantitative","scale":{"domain":[0.0092,0.013],"nice":false,"zero":false},"axis":{"values":[0.0092,0.0102,0.0112,0.0122],"title":null}},
  "y":{"field":"p","type":"quantitative","scale":{"domain":[0,1],"nice":false},"axis":{"values":[0,0.2,0.4,0.6,0.8,1],"title":null}},
  "color":{"field":"s","type":"nominal","title":"Ratio of failure","scale":{"domain":["1 %","3 %","5 %","8 %","10 %","12 %","15 %","20 %"],"range":["#3a3aff","#ff3030","#20a84a","#8e6bb5","#30bff0","#ff30ff","#aaaaaa","#f07f2a"]}},
  "order":{"field":"p","type":"quantitative"}}},
 {"data":{"name":"v"},"transform":[{"filter":"datum.g==='al_S'"}],"mark":{"type":"rule","color":"black","strokeWidth":1.6},"encoding":{"x":{"field":"x","type":"quantitative"}}},
 {"data":{"values":[{}]},"mark":{"type":"text","align":"right","baseline":"bottom","dx":-4,"dy":-3},"encoding":{"x":{"datum":0.013},"y":{"datum":0},"text":{"value":"Single NN"}}}
 ]},
{"width":130,"height":56,
 "layer":[
 {"data":{"name":"c"},"transform":[{"filter":"datum.g==='K1_S'"}],"mark":{"type":"line","strokeWidth":1,"clip":true},
  "encoding":{"x":{"field":"x","type":"quantitative","scale":{"domain":[0.008,0.011],"nice":false,"zero":false},"axis":{"values":[0.008,0.009,0.01,0.011],"title":null}},
  "y":{"field":"p","type":"quantitative","scale":{"domain":[0,1],"nice":false},"axis":{"values":[0,0.2,0.4,0.6,0.8,1],"title":null}},
  "color":{"field":"s","type":"nominal","title":"Ratio of failure","scale":{"domain":["1 %","3 %","5 %","8 %","10 %","12 %","15 %","20 %"],"range":["#3a3aff","#ff3030","#20a84a","#8e6bb5","#30bff0","#ff30ff","#aaaaaa","#f07f2a"]}},
  "order":{"field":"p","type":"quantitative"}}},
 {"data":{"name":"v"},"transform":[{"filter":"datum.g==='K1_S'"}],"mark":{"type":"rule","color":"black","strokeWidth":1.6},"encoding":{"x":{"field":"x","type":"quantitative"}}},
 {"data":{"values":[{}]},"mark":{"type":"text","align":"right","baseline":"bottom","dx":-7,"dy":-3},"encoding":{"x":{"datum":0.011},"y":{"datum":0},"text":{"value":"Single NN"}}}
 ]},
{"width":126,"height":57,
 "layer":[
 {"data":{"name":"c"},"transform":[{"filter":"datum.g==='TT_R'"}],"mark":{"type":"line","strokeWidth":1,"clip":true},
  "encoding":{"x":{"field":"x","type":"quantitative","scale":{"domain":[0.018,0.022],"nice":false,"zero":false},"axis":{"values":[0.018,0.02,0.022],"title":"IVARS-50"}},
  "y":{"field":"p","type":"quantitative","scale":{"domain":[0,1],"nice":false},"axis":{"values":[0,0.2,0.4,0.6,0.8,1],"title":null}},
  "color":{"field":"s","type":"nominal","title":"Ratio of failure","scale":{"domain":["1 %","3 %","5 %","8 %","10 %","12 %","15 %","20 %"],"range":["#3a3aff","#ff3030","#20a84a","#8e6bb5","#30bff0","#ff30ff","#aaaaaa","#f07f2a"]}},
  "order":{"field":"p","type":"quantitative"}}},
 {"data":{"name":"v"},"transform":[{"filter":"datum.g==='TT_R'"}],"mark":{"type":"rule","color":"black","strokeWidth":1.6},"encoding":{"x":{"field":"x","type":"quantitative"}}},
 {"data":{"values":[{}]},"mark":{"type":"text","align":"right","baseline":"bottom","dx":-10,"dy":-3},"encoding":{"x":{"datum":0.022},"y":{"datum":0},"text":{"value":"RBF"}}}
 ]},
{"width":127,"height":57,
 "layer":[
 {"data":{"name":"c"},"transform":[{"filter":"datum.g==='al_R'"}],"mark":{"type":"line","strokeWidth":1,"clip":true},
  "encoding":{"x":{"field":"x","type":"quantitative","scale":{"domain":[0.0092,0.013],"nice":false,"zero":false},"axis":{"values":[0.0092,0.0102,0.0112,0.0122],"title":"IVARS-50"}},
  "y":{"field":"p","type":"quantitative","scale":{"domain":[0,1],"nice":false},"axis":{"values":[0,0.2,0.4,0.6,0.8,1],"title":null}},
  "color":{"field":"s","type":"nominal","title":"Ratio of failure","scale":{"domain":["1 %","3 %","5 %","8 %","10 %","12 %","15 %","20 %"],"range":["#3a3aff","#ff3030","#20a84a","#8e6bb5","#30bff0","#ff30ff","#aaaaaa","#f07f2a"]}},
  "order":{"field":"p","type":"quantitative"}}},
 {"data":{"name":"v"},"transform":[{"filter":"datum.g==='al_R'"}],"mark":{"type":"rule","color":"black","strokeWidth":1.6},"encoding":{"x":{"field":"x","type":"quantitative"}}},
 {"data":{"values":[{}]},"mark":{"type":"text","align":"right","baseline":"bottom","dx":-14,"dy":-3},"encoding":{"x":{"datum":0.013},"y":{"datum":0},"text":{"value":"RBF"}}}
 ]},
{"width":130,"height":57,
 "layer":[
 {"data":{"name":"c"},"transform":[{"filter":"datum.g==='K1_R'"}],"mark":{"type":"line","strokeWidth":1,"clip":true},
  "encoding":{"x":{"field":"x","type":"quantitative","scale":{"domain":[0.008,0.011],"nice":false,"zero":false},"axis":{"values":[0.008,0.009,0.01,0.011],"title":"IVARS-50"}},
  "y":{"field":"p","type":"quantitative","scale":{"domain":[0,1],"nice":false},"axis":{"values":[0,0.2,0.4,0.6,0.8,1],"title":null}},
  "color":{"field":"s","type":"nominal","title":"Ratio of failure","scale":{"domain":["1 %","3 %","5 %","8 %","10 %","12 %","15 %","20 %"],"range":["#3a3aff","#ff3030","#20a84a","#8e6bb5","#30bff0","#ff30ff","#aaaaaa","#f07f2a"]}},
  "order":{"field":"p","type":"quantitative"}}},
 {"data":{"name":"v"},"transform":[{"filter":"datum.g==='K1_R'"}],"mark":{"type":"rule","color":"black","strokeWidth":1.6},"encoding":{"x":{"field":"x","type":"quantitative"}}},
 {"data":{"values":[{}]},"mark":{"type":"text","align":"right","baseline":"bottom","dx":-7,"dy":-3},"encoding":{"x":{"datum":0.011},"y":{"datum":0},"text":{"value":"RBF"}}}
 ]}
],
"columns":3,
"align":"each",
"bounds":"flush",
"spacing":{"row":20,"column":33},
"config":{
 "font":"Lato",
 "view":{"stroke":"#7a7a7a","strokeWidth":1},
 "axis":{"grid":false,"ticks":false,"domain":false,"labelFont":"Lato","labelFontSize":8.5,"labelColor":"#595959","labelPadding":4,"labelFlush":false,"labelOverlap":false,"labelBound":false,"labelExpr":"'' + datum.value","titleFont":"Lato","titleFontSize":9,"titleFontWeight":"bold","titleColor":"#262626"},
 "axisX":{"titleFontStyle":"italic","titlePadding":4},
 "title":{"font":"Lato","fontSize":9.5,"fontWeight":"bold","fontStyle":"italic","color":"#262626","offset":1,"anchor":"middle"},
 "text":{"font":"Lato","fontSize":8.5,"color":"#404040"},
 "legend":{"orient":"none","legendX":55,"legendY":-28,"direction":"horizontal","columns":8,"titleOrient":"left","titleFont":"Lato","titleFontSize":8,"titleFontWeight":"bold","titleColor":"#262626","titlePadding":6,"labelFont":"Lato","labelFontSize":8,"labelColor":"#595959","symbolType":"stroke","symbolSize":196,"symbolStrokeWidth":2,"gridAlign":"all","columnPadding":-5,"labelOffset":2}
}
}
